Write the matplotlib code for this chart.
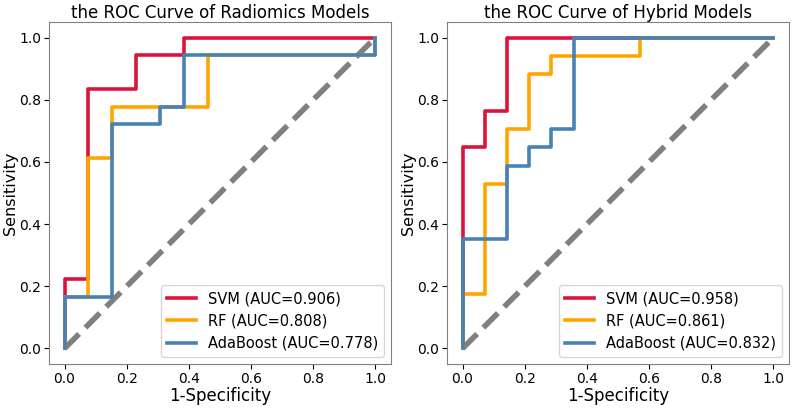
import matplotlib
matplotlib.use("Agg")
import matplotlib.pyplot as plt

# left panel: radiomics models (fpr, tpr steps)
rad_svm_fpr = [0, 0, 1/13, 1/13, 3/13, 3/13, 5/13, 5/13, 1]
rad_svm_tpr = [0, 4/18, 4/18, 15/18, 15/18, 17/18, 17/18, 1, 1]
rad_rf_fpr = [0, 0, 1/13, 1/13, 2/13, 2/13, 6/13, 6/13, 1, 1]
rad_rf_tpr = [0, 3/18, 3/18, 11/18, 11/18, 14/18, 14/18, 17/18, 17/18, 1]
rad_ada_fpr = [0, 0, 2/13, 2/13, 4/13, 4/13, 5/13, 5/13, 1, 1]
rad_ada_tpr = [0, 3/18, 3/18, 13/18, 13/18, 14/18, 14/18, 17/18, 17/18, 1]

# right panel: hybrid models
hyb_svm_fpr = [0, 0, 1/14, 1/14, 2/14, 2/14, 1]
hyb_svm_tpr = [0, 11/17, 11/17, 13/17, 13/17, 1, 1]
hyb_rf_fpr = [0, 0, 1/14, 1/14, 2/14, 2/14, 3/14, 3/14, 4/14, 4/14, 8/14, 8/14, 1]
hyb_rf_tpr = [0, 3/17, 3/17, 9/17, 9/17, 12/17, 12/17, 15/17, 15/17, 16/17, 16/17, 1, 1]
hyb_ada_fpr = [0, 0, 2/14, 2/14, 3/14, 3/14, 4/14, 4/14, 5/14, 5/14, 1]
hyb_ada_tpr = [0, 6/17, 6/17, 10/17, 10/17, 11/17, 11/17, 12/17, 12/17, 1, 1]

rad_auc = [0.906, 0.808, 0.778]
hyb_auc = [0.958, 0.861, 0.832]
model_names = ['SVM', 'RF', 'AdaBoost']
colors = ['crimson', 'orange', 'steelblue']

titles = ['the ROC Curve of Radiomics Models', 'the ROC Curve of Hybrid Models']
panels = [
    [(rad_svm_fpr, rad_svm_tpr), (rad_rf_fpr, rad_rf_tpr), (rad_ada_fpr, rad_ada_tpr)],
    [(hyb_svm_fpr, hyb_svm_tpr), (hyb_rf_fpr, hyb_rf_tpr), (hyb_ada_fpr, hyb_ada_tpr)],
]
aucs = [rad_auc, hyb_auc]

fig = plt.figure(figsize=(7.99, 4.11), dpi=100)
ax_pos = [[49/799, 1 - 364/411, 342/799, 342/411],
          [447/799, 1 - 364/411, 342/799, 342/411]]

for k in range(2):
    ax = fig.add_axes(ax_pos[k])
    ax.plot([0, 1], [0, 1], color='gray', linestyle='--', linewidth=4)
    for (fpr, tpr), name, c, a in zip(panels[k], model_names, colors, aucs[k]):
        ax.plot(fpr, tpr, color=c, linewidth=2.6, label='%s (AUC=%.3f)' % (name, a))
    ax.set_xlim(-0.05, 1.05)
    ax.set_ylim(-0.05, 1.05)
    ax.set_title(titles[k], fontsize=12, pad=3)
    ax.set_xlabel('1-Specificity', fontsize=12, labelpad=1)
    ax.set_ylabel('Sensitivity', fontsize=11.5)
    ax.yaxis.set_label_coords(-0.09, 0.5)
    ax.tick_params(labelsize=10, pad=2)
    ax.legend(loc='lower right', fontsize=10.5)
    for s in ax.spines.values():
        s.set_color('gray')

fig.savefig('out.png', dpi=100)
